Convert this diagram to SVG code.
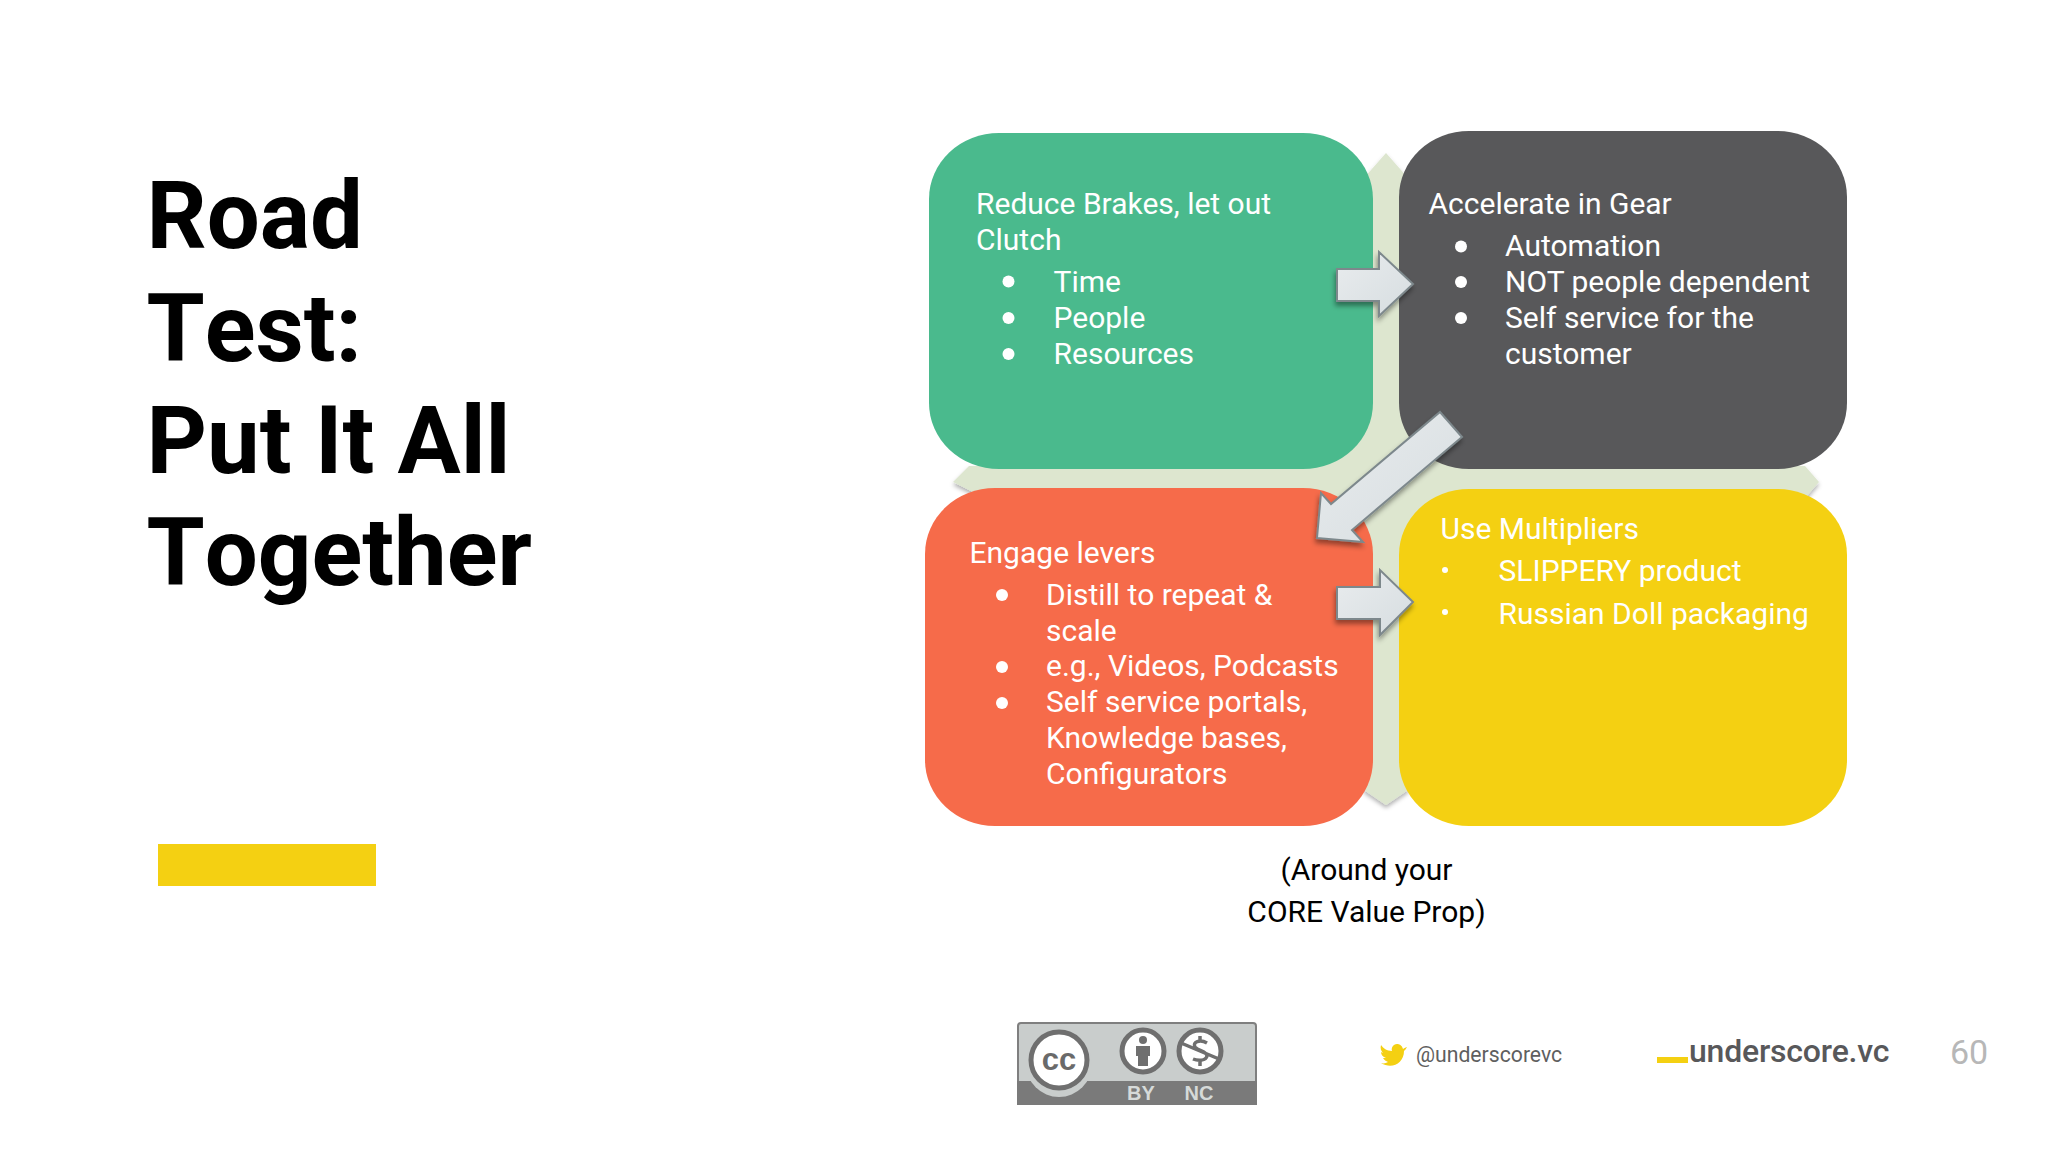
<svg xmlns="http://www.w3.org/2000/svg" width="2048" height="1152" viewBox="0 0 2048 1152">
<style>
text{font-family:Roboto,"Liberation Sans",sans-serif}
.title{font-size:94px;font-weight:700;fill:#000;font-kerning:none}
.b{font-size:30px;font-weight:400;fill:#fff}
.c{font-size:30px;font-weight:400;fill:#000;text-anchor:middle}
.dot{fill:#fff}
.arrow{fill:url(#ag);stroke:#7d888c;stroke-width:2;stroke-linejoin:miter;filter:url(#sh)}
.lic{fill:#d6dad9;font-family:"Liberation Sans",sans-serif;font-weight:700;font-size:20px;text-anchor:middle}
.ring{fill:#fff;stroke:#6f6f6f;stroke-width:5}
</style>
<defs>
<linearGradient id="ag" x1="0" y1="0" x2="1" y2="1"><stop offset="0" stop-color="#e9ecee"/><stop offset="1" stop-color="#d6dde0"/></linearGradient>
<filter id="sh" x="-30%" y="-30%" width="160%" height="160%"><feDropShadow dx="-1" dy="4" stdDeviation="2.5" flood-color="#000" flood-opacity=".4"/></filter>
<filter id="sc" x="-10%" y="-10%" width="120%" height="120%"><feDropShadow dx="0" dy="3" stdDeviation="2" flood-color="#000" flood-opacity=".3"/></filter>
</defs>
<rect width="2048" height="1152" fill="#fff"/>
<g id="title">
<text class="title" x="146.500" y="248">Road</text>
<text class="title" x="146.500" y="360.500">Test:</text>
<text class="title" x="146.500" y="473">Put It All</text>
<text class="title" x="146.500" y="585">Together</text>
<rect x="158" y="844" width="218" height="42" fill="#f4d012"/>
</g>
<g id="cross">
<path d="M1386 153L1408 178V400H1470V466H1805L1819 482L1805 498H1470V560H1408V790L1386 805L1364 790V560H1300V498H985L953 482L969 466H1300V400H1364V178Z" fill="#dde6cf" filter="url(#sc)"/>
</g>
<g id="node-brakes">
<rect x="929" y="133" width="444" height="336" rx="70" ry="66" fill="#4aba8d"/>
<text class="b" x="976" y="214">Reduce Brakes, let out</text>
<text class="b" x="976" y="250">Clutch</text>
<circle class="dot" cx="1008.500" cy="281.500" r="6"/><text class="b" x="1053.500" y="292">Time</text>
<circle class="dot" cx="1008.500" cy="318" r="6"/><text class="b" x="1053.500" y="328">People</text>
<circle class="dot" cx="1008.500" cy="354" r="6"/><text class="b" x="1053.500" y="364">Resources</text>
</g>
<g id="node-gear">
<rect x="1399" y="131" width="448" height="338" rx="70" ry="66" fill="#58585a"/>
<text class="b" x="1428.500" y="214">Accelerate in Gear</text>
<circle class="dot" cx="1461" cy="246.500" r="6"/><text class="b" x="1505" y="256">Automation</text>
<circle class="dot" cx="1461" cy="282" r="6"/><text class="b" x="1505" y="292">NOT people dependent</text>
<circle class="dot" cx="1461" cy="318" r="6"/><text class="b" x="1505" y="328">Self service for the</text>
<text class="b" x="1505" y="364">customer</text>
</g>
<g id="node-levers">
<rect x="925" y="488" width="448" height="338" rx="70" ry="66" fill="#f66b4a"/>
<text class="b" x="969.500" y="563">Engage levers</text>
<circle class="dot" cx="1002" cy="595" r="6"/><text class="b" x="1046" y="605">Distill to repeat &amp;</text>
<text class="b" x="1046" y="641">scale</text>
<circle class="dot" cx="1002" cy="667" r="6"/><text class="b" x="1046" y="676">e.g., Videos, Podcasts</text>
<circle class="dot" cx="1002" cy="703" r="6"/><text class="b" x="1046" y="712">Self service portals,</text>
<text class="b" x="1046" y="748">Knowledge bases,</text>
<text class="b" x="1046" y="784">Configurators</text>
</g>
<g id="node-multipliers">
<rect x="1399" y="489" width="448" height="337" rx="70" ry="66" fill="#f4d012"/>
<text class="b" x="1440.500" y="539">Use Multipliers</text>
<circle class="dot" cx="1445" cy="570" r="3"/><text class="b" x="1498.500" y="581">SLIPPERY product</text>
<circle class="dot" cx="1445" cy="612" r="3"/><text class="b" x="1498.500" y="623.500">Russian Doll packaging</text>
</g>
<g id="connectors">
<path class="arrow" d="M1337 269H1379V252L1413 284L1379 316V301H1337Z"/>
<path class="arrow" d="M1440 412L1462 437L1352 530L1363 542L1317 538L1321 493L1331 504Z"/>
<path class="arrow" d="M1337 587H1380V570L1413 602L1380 635V619H1337Z"/>
</g>
<g id="caption">
<text class="c" x="1366.500" y="880">(Around your</text>
<text class="c" x="1366.500" y="922">CORE Value Prop)</text>
</g>
<g id="license">
<rect x="1018" y="1023" width="238" height="81" rx="3" fill="#c9cdcc" stroke="#7f7f7f" stroke-width="2"/>
<path d="M1017 1081H1257V1105H1017Z" fill="#7a7a7a"/>
<circle cx="1059" cy="1064" r="33" fill="#c9cdcc"/>
<circle class="ring" cx="1059" cy="1060" r="28" stroke-width="6"/>
<text x="1059" y="1070" text-anchor="middle" style="font-family:'Liberation Sans',sans-serif;font-weight:700;font-size:31px;fill:#6a6a6a">cc</text>
<circle class="ring" cx="1143" cy="1051" r="21"/>
<circle cx="1143" cy="1040" r="4" fill="#6f6f6f"/>
<path d="M1136 1046H1150V1056H1148V1066H1138V1056H1136Z" fill="#6f6f6f"/>
<circle class="ring" cx="1200" cy="1051" r="21"/>
<path d="M1207 1043C1200 1039 1192 1042 1195 1047C1198 1051 1207 1051 1207 1056C1206 1061 1198 1061 1193 1059M1200 1036V1041M1200 1061V1066M1181 1043L1219 1059" fill="none" stroke="#6f6f6f" stroke-width="3.500"/>
<text class="lic" x="1141" y="1100">BY</text>
<text class="lic" x="1199" y="1100">NC</text>
</g>
<g id="footer">
<path d="M1407 1047C1405 1048 1404 1048 1403 1049C1402 1045 1399 1044 1397 1044C1393 1044 1391 1048 1392 1051C1387 1051 1383 1048 1381 1045C1380 1048 1381 1051 1383 1053L1381 1052C1381 1055 1383 1057 1386 1058L1383 1058C1384 1060 1386 1061 1388 1062C1386 1063 1384 1064 1381 1063C1392 1070 1404 1063 1404 1051C1405 1050 1406 1049 1407 1047Z" fill="#f4d012"/>
<text x="1416" y="1062" style="font-size:21.200px;font-weight:400;fill:#5f5f60">@underscorevc</text>
<rect x="1657" y="1057" width="31" height="6" fill="#f4d012"/>
<text x="1689" y="1062" style="font-size:32px;font-weight:500;fill:#58585a;letter-spacing:-.2px">underscore.vc</text>
<text x="1950" y="1064" style="font-size:34px;font-weight:400;fill:#b7b7b7">60</text>
</g>
</svg>
